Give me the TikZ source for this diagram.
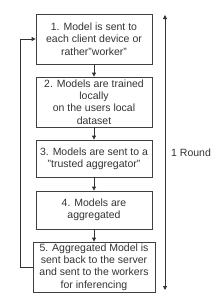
\documentclass[tikz,border=0pt]{standalone}
\usepackage{fontspec}
\setmainfont{Liberation Sans}
\usetikzlibrary{arrows.meta}
\begin{document}
\begin{tikzpicture}[x=1pt,y=-1pt,
  stepbox/.style={draw=black!75,line width=0.8pt,align=center,inner sep=0pt,
    font=\fontsize{10.5}{12.3}\selectfont,text=black!80},
  conn/.style={draw=black!80,line width=0.8pt,-{Triangle[length=4pt,width=4pt]}}]
\useasboundingbox (0,0) rectangle (212,303);
\node[stepbox,minimum width=116pt,minimum height=50pt] (b1) at (94,39) {1. Model is sent to\\each client device or\\rather"worker"};
\node[stepbox,minimum width=116pt,minimum height=50pt] (b2) at (94,102) {2. Models are trained\\locally\\on the users local\\dataset};
\node[stepbox,minimum width=116pt,minimum height=37pt] (b3) at (94,158.5) {3. Models are sent to a\\"trusted aggregator"};
\node[stepbox,minimum width=116pt,minimum height=38pt] (b4) at (94,210) {4. Models are\\aggregated};
\node[stepbox,minimum width=122pt,minimum height=50pt] (b5) at (94,267) {5. Aggregated Model is\\sent back to the server\\and sent to the workers\\for inferencing};
\draw[conn] (b1) -- (b2);
\draw[conn] (b2) -- (b3);
\draw[conn] (b3) -- (b4);
\draw[conn] (b4) -- (b5);
\coordinate (lb) at (20,267);
\coordinate (lt) at (20,39);
\draw[conn] (b5.west) -- (lb) -- (lt) -- (b1.west);
\coordinate (rt) at (165,15);
\coordinate (rb) at (165,290);
\draw[conn,{Triangle[length=4pt,width=4pt]}-{Triangle[length=4pt,width=4pt]}] (rt) -- (rb);
\node[font=\fontsize{10.5}{12.3}\selectfont,text=black!80,anchor=west,inner sep=0pt] (lab) at (171,153) {1 Round};
\end{tikzpicture}
\end{document}
